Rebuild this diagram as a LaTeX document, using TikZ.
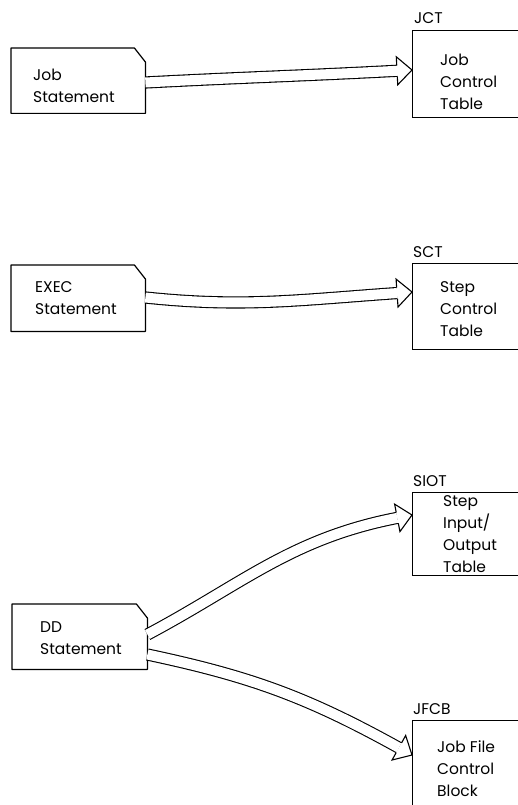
\documentclass[tikz,border=0pt]{standalone}
\usepackage{fontspec}
\setmainfont{Poppins}
\usetikzlibrary{calc}
\tikzset{
  cardbox/.style={draw=none, inner sep=0pt, minimum width=134pt, minimum height=65pt, anchor=north west},
  cardline/.style={line width=1.2pt, line join=round},
  tblbox/.style={draw, line width=1.2pt, inner sep=0pt, minimum width=130pt, anchor=north west},
  txt/.style={inner sep=0pt, align=left, anchor=north west, font=\fontsize{15.5}{22}\selectfont},
  lbl/.style={inner sep=0pt, anchor=base west, font=\fontsize{15.5}{18}\selectfont},
  shaft/.style={double, double distance=10pt, line width=1.1pt},
  headline/.style={fill=white, line width=1.1pt, line join=miter},
}
\newcommand{\hollowarrow}[4]{%
  \pgfmathsetmacro{\hinang}{#4+180}%
  \pgfmathsetmacro{\hnup}{#4+90}%
  \pgfmathsetmacro{\hndn}{#4-90}%
  \path (#3) ++(\hinang:15pt) coordinate (hb);
  \draw[shaft] (#1) to[out=#2, in=\hinang] (hb);
  \filldraw[headline] ($(hb)+(\hnup:5.5pt)$) -- ($(hb)+(\hnup:14pt)$) -- (#3) -- ($(hb)+(\hndn:14pt)$) -- ($(hb)+(\hndn:5.5pt)$);
}
\newcommand{\cardoutline}[1]{%
  \draw[cardline] (#1.south west) -- (#1.north west) -- ($(#1.north east)+(-11pt,0)$) -- ($(#1.north east)+(0,-14pt)$) -- (#1.south east) -- cycle;
}
\begin{document}
\begin{tikzpicture}[x=1pt,y=1pt]
\useasboundingbox (0,0) rectangle (518,-805);
\clip (0,0) rectangle (518,-805);
\fill[white] (0,0) rectangle (518,-805);

% cards
\node[cardbox] (job) at (11,-48) {};
\cardoutline{job}
\node[txt] (jobt) at (33,-69) {Job\\Statement};

\node[cardbox, minimum height=66pt] (exec) at (11,-265) {};
\cardoutline{exec}
\node[txt] (exect) at (35,-281) {EXEC\\Statement};

\node[cardbox, minimum width=135pt] (dd) at (12,-604) {};
\cardoutline{dd}
\node[txt] (ddt) at (40,-621) {DD\\Statement};

% tables
\node[tblbox, minimum height=87pt] (jct) at (412,-30) {};
\node[lbl] (jctl) at (414,-24) {JCT};
\node[txt] (jctt) at (440,-54) {Job\\Control\\Table};

\node[tblbox, minimum height=86pt] (sct) at (412,-263) {};
\node[lbl] (sctl) at (413,-257) {SCT};
\node[txt] (sctt) at (440,-281) {Step\\Control\\Table};

\node[tblbox, minimum height=83pt] (siot) at (412,-492) {};
\node[lbl] (siotl) at (413,-486) {SIOT};
\node[txt] (siott) at (443,-495) {Step\\Input/\\Output\\Table};

\node[tblbox, minimum height=120pt] (jfcb) at (412,-720) {};
\node[lbl] (jfcbl) at (413,-714) {JFCB};
\node[txt] (jfcbt) at (437,-740) {Job File\\Control\\Block};

% connector end points
\coordinate (s1) at ($(job.north east)+(0,-34.5)$);
\coordinate (e1) at ($(jct.north west)+(0,-40)$);
\coordinate (s2) at ($(exec.north east)+(0,-32.5)$);
\coordinate (e2) at ($(sct.north west)+(0,-29)$);
\coordinate (s3) at ($(dd.north east)+(0,-30.5)$);
\coordinate (e3) at ($(siot.north west)+(0,-23)$);
\coordinate (s4) at ($(dd.north east)+(0,-50.5)$);
\coordinate (e4) at ($(jfcb.north west)+(0,-35)$);

\hollowarrow{s1}{3}{e1}{3}
\hollowarrow{s2}{-6}{e2}{4}
\hollowarrow{s3}{28}{e3}{11}
\hollowarrow{s4}{-12}{e4}{-29}
\end{tikzpicture}
\end{document}
